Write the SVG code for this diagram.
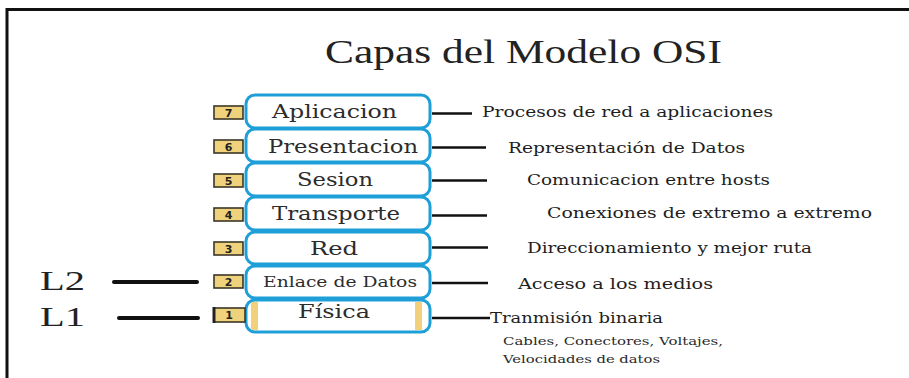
<svg xmlns="http://www.w3.org/2000/svg" width="909" height="378" viewBox="0 0 909 378">
<defs>
<style>
.frame{fill:none;stroke:#111;stroke-width:3}
.layer{fill:#fff;stroke:#1f9fd8;stroke-width:3}
.badge{fill:#f1d27c;stroke:#3b3626;stroke-width:1.6}
.num{font-family:"DejaVu Sans",Arial,sans-serif;font-weight:bold;font-size:11px;fill:#222;text-anchor:middle}
.lbl{font-family:"DejaVu Serif","Liberation Serif",serif;font-size:18px;fill:#2c2c2c}
.desc{font-family:"DejaVu Serif","Liberation Serif",serif;font-size:14px;fill:#1e1e1e}
.small{font-family:"DejaVu Serif","Liberation Serif",serif;font-size:10.5px;fill:#2a2a2a}
.conn{stroke:#111;stroke-width:2.4;fill:none}
.thick{stroke:#111;stroke-width:4;fill:none;stroke-linecap:round}
.big{font-family:"Liberation Serif","Times New Roman",serif;font-size:28px;fill:#222}
.strip{fill:#f2d07c}
</style>
</defs>
<rect width="909" height="378" fill="#fff"/>
<path class="frame" d="M7,378 V9.5 H909"/>
<text x="325" y="63" font-family="'Liberation Serif','Times New Roman',serif" font-size="34" fill="#222" textLength="397" lengthAdjust="spacingAndGlyphs">Capas del Modelo OSI</text>

<g id="layer7">
<rect class="layer" x="246" y="95" width="184" height="33" rx="9"/>
<rect class="badge" x="214" y="106" width="29" height="13"/>
<text class="num" x="228.5" y="116.5">7</text>
<text class="lbl" x="272" y="118" textLength="125" lengthAdjust="spacingAndGlyphs">Aplicacion</text>
</g>
<g id="layer6">
<rect class="layer" x="246" y="129" width="184" height="33" rx="9"/>
<rect class="badge" x="214" y="140" width="29" height="13"/>
<text class="num" x="228.5" y="150.5">6</text>
<text class="lbl" x="268" y="153" textLength="150" lengthAdjust="spacingAndGlyphs">Presentacion</text>
</g>
<g id="layer5">
<rect class="layer" x="246" y="163" width="184" height="33" rx="9"/>
<rect class="badge" x="214" y="174" width="29" height="13"/>
<text class="num" x="228.5" y="184.5">5</text>
<text class="lbl" x="297" y="186" textLength="76" lengthAdjust="spacingAndGlyphs">Sesion</text>
</g>
<g id="layer4">
<rect class="layer" x="246" y="197" width="184" height="33" rx="9"/>
<rect class="badge" x="214" y="208" width="29" height="13"/>
<text class="num" x="228.5" y="218.5">4</text>
<text class="lbl" x="272" y="220" textLength="128" lengthAdjust="spacingAndGlyphs">Transporte</text>
</g>
<g id="layer3">
<rect class="layer" x="246" y="232" width="184" height="32" rx="9"/>
<rect class="badge" x="214" y="242" width="29" height="13"/>
<text class="num" x="228.5" y="252.5">3</text>
<text class="lbl" x="310" y="255" textLength="48" lengthAdjust="spacingAndGlyphs">Red</text>
</g>
<g id="layer2">
<rect class="layer" x="246" y="266" width="184" height="32" rx="9"/>
<rect class="badge" x="214" y="275" width="29" height="13"/>
<text class="num" x="228.5" y="285.5">2</text>
<text x="263" y="287" font-family="'DejaVu Serif','Liberation Serif',serif" font-size="14" fill="#2c2c2c" textLength="154" lengthAdjust="spacingAndGlyphs">Enlace de Datos</text>
</g>
<g id="layer1">
<rect class="layer" x="246" y="300" width="184" height="32" rx="9"/>
<rect class="strip" x="251" y="302" width="7" height="28"/>
<rect class="strip" x="415" y="302" width="7" height="28"/>
<rect class="badge" x="214" y="308" width="31" height="14"/>
<line x1="214" y1="307" x2="214" y2="323" stroke="#222" stroke-width="3"/>
<text class="num" x="229" y="319">1</text>
<text class="lbl" x="298" y="318" textLength="72" lengthAdjust="spacingAndGlyphs">Física</text>
</g>

<g id="L2">
<text class="big" x="40" y="290" textLength="45" lengthAdjust="spacingAndGlyphs">L2</text>
</g>
<g id="L1">
<text class="big" x="40" y="326" textLength="45" lengthAdjust="spacingAndGlyphs">L1</text>
</g>

<g id="desc7"><text class="desc" x="482" y="117" textLength="291" lengthAdjust="spacingAndGlyphs">Procesos de red a aplicaciones</text></g>
<g id="desc6"><text class="desc" x="508" y="153" textLength="237" lengthAdjust="spacingAndGlyphs">Representación de Datos</text></g>
<g id="desc5"><text class="desc" x="527" y="185" textLength="243" lengthAdjust="spacingAndGlyphs">Comunicacion entre hosts</text></g>
<g id="desc4"><text class="desc" x="547" y="218" textLength="325" lengthAdjust="spacingAndGlyphs">Conexiones de extremo a extremo</text></g>
<g id="desc3"><text class="desc" x="527" y="253" textLength="285" lengthAdjust="spacingAndGlyphs">Direccionamiento y mejor ruta</text></g>
<g id="desc2"><text class="desc" x="518" y="289" textLength="195" lengthAdjust="spacingAndGlyphs">Acceso a los medios</text></g>
<g id="desc1">
<text class="desc" x="490" y="323" textLength="173" lengthAdjust="spacingAndGlyphs">Tranmisión binaria</text>
<text class="small" x="503" y="345" textLength="220" lengthAdjust="spacingAndGlyphs">Cables, Conectores, Voltajes,</text>
<text class="small" x="503" y="363" textLength="157" lengthAdjust="spacingAndGlyphs">Velocidades de datos</text>
</g>

<g id="connectors">
<line class="conn" x1="432" y1="113.5" x2="472" y2="113.5"/>
<line class="conn" x1="432" y1="147.5" x2="486" y2="147.5"/>
<line class="conn" x1="432" y1="180.5" x2="487" y2="180.5"/>
<line class="conn" x1="432" y1="215.5" x2="487" y2="215.5"/>
<line class="conn" x1="432" y1="247.5" x2="488" y2="247.5"/>
<line class="conn" x1="432" y1="283" x2="488" y2="283"/>
<line class="conn" x1="432" y1="318" x2="490" y2="318"/>
<line class="thick" x1="114" y1="282" x2="197" y2="282"/>
<line class="thick" x1="119" y1="318" x2="198" y2="318"/>
</g>
</svg>
